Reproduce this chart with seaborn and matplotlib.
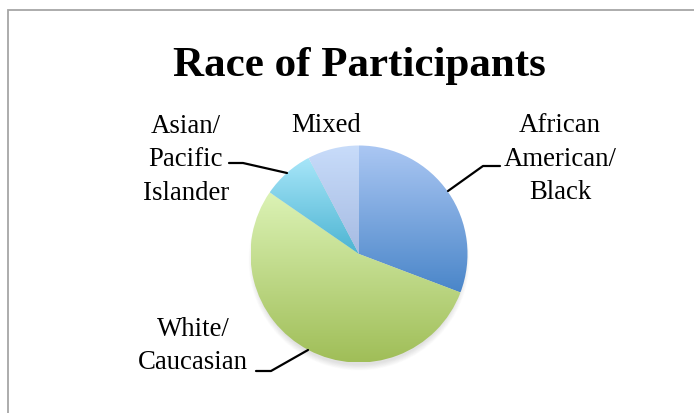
import numpy as np
import matplotlib
matplotlib.use("Agg")
import matplotlib.pyplot as plt
import matplotlib.patches as mpatches
from matplotlib.colors import LinearSegmentedColormap
import seaborn as sns

# data (counts)
groups = ["African American/Black", "White/Caucasian", "Asian/Pacific Islander", "Mixed"]
counts = [8, 14, 2, 2]
label_text = ["African\nAmerican/\nBlack", "White/\nCaucasian", "Asian/\nPacific\nIslander", "Mixed"]
# top / bottom colours of each slice's gradient
top_colors = ["#abc7f3", "#dcf3b6", "#a8e6f9", "#c8dcfa"]
bottom_colors = ["#4a86c9", "#a0be58", "#4cb4d2", "#a6bbe2"]

sns.set_style("white")
plt.rcParams["font.family"] = ["Liberation Serif", "DejaVu Serif"]
plt.rcParams["text.color"] = "black"

W, H = 694, 413
fig = plt.figure(figsize=(W / 100, H / 100), dpi=100)
ax = fig.add_axes([0, 0, 1, 1])

cx, cy, r = 359, H - 254, 108.5

# soft shadow under the pie
for k in range(10):
    ax.add_patch(mpatches.Circle((cx, cy - 6), r + 2 - k * 0.6, color="black",
                                 alpha=0.012, lw=0, zorder=1))

wedges, _ = ax.pie(counts, startangle=90, counterclock=False, center=(cx, cy),
                   radius=r, frame=True, wedgeprops=dict(linewidth=0))

for w, c_top, c_bot in zip(wedges, top_colors, bottom_colors):
    w.set_facecolor("none")
    w.set_zorder(2)
    ext = w.get_path().get_extents()
    cmap = LinearSegmentedColormap.from_list("g", [c_bot, c_top])
    grad = np.linspace(0, 1, 256).reshape(-1, 1)
    im = ax.imshow(grad, cmap=cmap, origin="lower", aspect="auto",
                   extent=[ext.x0, ext.x1, ext.y0, ext.y1], zorder=2,
                   interpolation="bilinear")
    im.set_clip_path(w)

ax.set_xlim(0, W)
ax.set_ylim(0, H)
ax.set_aspect("equal")
ax.axis("off")

# outer frame (cut off on the right and bottom)
ax.add_patch(mpatches.Rectangle((8, -20), W + 20, H - 10 + 20, fill=False,
                                edgecolor="#a6a6a6", linewidth=1.3, zorder=0))

ax.text(359, H - 66, "Race of Participants", ha="center", va="center",
        fontsize=31, fontweight="bold")

fs = 19.3
ls = 1.45
ax.text(560, H - 159, label_text[0], ha="center", va="center", fontsize=fs,
        linespacing=ls)
ax.text(193, H - 346, label_text[1], ha="center", va="center", fontsize=fs,
        linespacing=ls)
ax.text(186, H - 160, label_text[2], ha="center", va="center", fontsize=fs,
        linespacing=ls)
ax.text(326, H - 125, label_text[3], ha="center", va="center", fontsize=fs)

# leader lines
lw = 1.6
ax.plot([448, 483, 500], [H - 191, H - 166, H - 166], color="black", lw=lw, zorder=3)
ax.plot([229, 243, 287], [H - 163, H - 163, H - 173], color="black", lw=lw, zorder=3)
ax.plot([308, 271, 256], [H - 350, H - 371, H - 371], color="black", lw=lw, zorder=3)

fig.savefig("out.png", dpi=100)
